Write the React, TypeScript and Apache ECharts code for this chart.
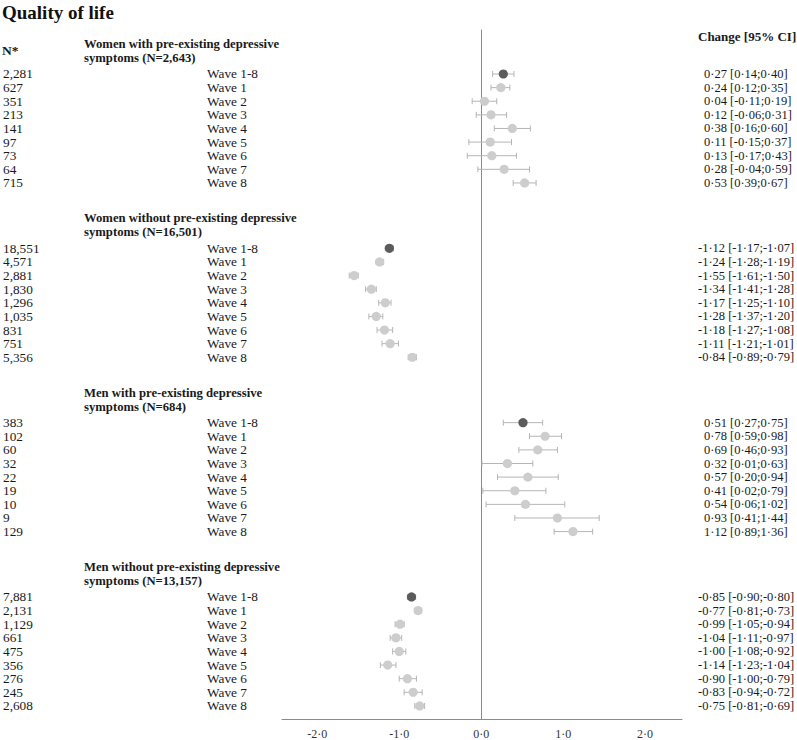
import React, { useEffect, useRef } from "react";
import * as echarts from "echarts";

const groupTitles = [
  "Women with pre-existing depressive\nsymptoms (N=2,643)",
  "Women without pre-existing depressive\nsymptoms (N=16,501)",
  "Men with pre-existing depressive\nsymptoms (N=684)",
  "Men without pre-existing depressive\nsymptoms (N=13,157)",
];

const waveLabels = ["Wave 1-8", "Wave 1", "Wave 2", "Wave 3", "Wave 4", "Wave 5", "Wave 6", "Wave 7", "Wave 8"];

const nWomenWith = ["2,281", "627", "351", "213", "141", "97", "73", "64", "715"];
const estWomenWith = [0.27, 0.24, 0.04, 0.12, 0.38, 0.11, 0.13, 0.28, 0.53];
const loWomenWith = [0.14, 0.12, -0.11, -0.06, 0.16, -0.15, -0.17, -0.04, 0.39];
const hiWomenWith = [0.40, 0.35, 0.19, 0.31, 0.60, 0.37, 0.43, 0.59, 0.67];

const nWomenWithout = ["18,551", "4,571", "2,881", "1,830", "1,296", "1,035", "831", "751", "5,356"];
const estWomenWithout = [-1.12, -1.24, -1.55, -1.34, -1.17, -1.28, -1.18, -1.11, -0.84];
const loWomenWithout = [-1.17, -1.28, -1.61, -1.41, -1.25, -1.37, -1.27, -1.21, -0.89];
const hiWomenWithout = [-1.07, -1.19, -1.50, -1.28, -1.10, -1.20, -1.08, -1.01, -0.79];

const nMenWith = ["383", "102", "60", "32", "22", "19", "10", "9", "129"];
const estMenWith = [0.51, 0.78, 0.69, 0.32, 0.57, 0.41, 0.54, 0.93, 1.12];
const loMenWith = [0.27, 0.59, 0.46, 0.01, 0.20, 0.02, 0.06, 0.41, 0.89];
const hiMenWith = [0.75, 0.98, 0.93, 0.63, 0.94, 0.79, 1.02, 1.44, 1.36];

const nMenWithout = ["7,881", "2,131", "1,129", "661", "475", "356", "276", "245", "2,608"];
const estMenWithout = [-0.85, -0.77, -0.99, -1.04, -1.00, -1.14, -0.90, -0.83, -0.75];
const loMenWithout = [-0.90, -0.81, -1.05, -1.11, -1.08, -1.23, -1.00, -0.94, -0.81];
const hiMenWithout = [-0.80, -0.73, -0.94, -0.97, -0.92, -1.04, -0.79, -0.72, -0.69];

const xTickValues = [-2, -1, 0, 1, 2];

const groups = [
  { n: nWomenWith, est: estWomenWith, lo: loWomenWith, hi: hiWomenWith },
  { n: nWomenWithout, est: estWomenWithout, lo: loWomenWithout, hi: hiWomenWithout },
  { n: nMenWith, est: estMenWith, lo: loMenWith, hi: hiMenWith },
  { n: nMenWithout, est: estMenWithout, lo: loMenWithout, hi: hiMenWithout },
];

const GROUP_STEP = 12.8;
const SERIF = "'Liberation Serif', 'Times New Roman', serif";

const fmt = (v: number) => v.toFixed(2).replace(".", "·");

export default function App() {
  const ref = useRef<HTMLDivElement>(null);

  useEffect(() => {
    if (!ref.current) return;
    const chart = echarts.init(ref.current, undefined, { renderer: "svg" });

    // rows: [est, lo, hi, yPos, isOverall, nLabel, waveLabel, ciText]
    const rows: any[] = [];
    groups.forEach((g, gi) => {
      g.est.forEach((e, i) => {
        rows.push([
          e,
          g.lo[i],
          g.hi[i],
          gi * GROUP_STEP + i,
          i === 0 ? 1 : 0,
          g.n[i],
          waveLabels[i],
          `${fmt(e)} [${fmt(g.lo[i])};${fmt(g.hi[i])}]`,
        ]);
      });
    });
    const headers = groupTitles.map((t, gi) => [0, gi * GROUP_STEP - 1.69]);

    const textEl = (text: string, x: number, y: number, size: number) => ({
      type: "text",
      x,
      y,
      style: {
        text,
        fill: "#1a1a1a",
        fontFamily: SERIF,
        fontSize: size,
        fontWeight: "normal",
        verticalAlign: "middle",
        align: "left",
      },
    });

    chart.setOption({
      animation: false,
      backgroundColor: "#fff",
      grid: { left: 282, right: 115, top: 30, bottom: 21, containLabel: false },
      xAxis: {
        type: "value",
        min: -2.43,
        max: 2.45,
        splitLine: { show: false },
        axisTick: { show: false },
        axisLine: { show: true, onZero: false, lineStyle: { color: "#8a8a8a", width: 1 } },
        axisLabel: {
          customValues: xTickValues,
          margin: 9,
          color: "#333",
          fontFamily: SERIF,
          fontSize: 12,
          formatter: (v: number) => v.toFixed(1).replace(".", "·"),
        },
      },
      yAxis: {
        type: "value",
        inverse: true,
        min: -3.23,
        max: 47.36,
        splitLine: { show: false },
        axisTick: { show: false },
        axisLabel: { show: false },
        axisLine: { show: true, onZero: true, lineStyle: { color: "#8a8a8a", width: 1 } },
      },
      graphic: [
        {
          type: "text",
          left: 2,
          top: 3,
          style: { text: "Quality of life", fontFamily: SERIF, fontSize: 19, fontWeight: "bold", fill: "#111" },
        },
        {
          type: "text",
          left: 2,
          top: 43,
          style: { text: "N*", fontFamily: SERIF, fontSize: 13.5, fontWeight: "bold", fill: "#1a1a1a" },
        },
        {
          type: "text",
          left: 698,
          top: 30,
          style: { text: "Change [95% CI]", fontFamily: SERIF, fontSize: 13, fontWeight: "bold", fill: "#1a1a1a" },
        },
      ],
      series: [
        {
          type: "custom",
          coordinateSystem: "cartesian2d",
          encode: { x: [0, 1, 2], y: 3 },
          data: rows,
          clip: false,
          renderItem: (params: any, api: any) => {
            const est = api.value(0);
            const lo = api.value(1);
            const hi = api.value(2);
            const yv = api.value(3);
            const overall = api.value(4) === 1;
            const row = rows[params.dataIndex];
            const y = api.coord([0, yv])[1];
            const xe = api.coord([est, yv])[0];
            const xl = api.coord([lo, yv])[0];
            const xh = api.coord([hi, yv])[0];
            const barStyle = { stroke: "#b5b5b5", lineWidth: 1 };
            const cap = 3;
            return {
              type: "group",
              children: [
                { type: "line", shape: { x1: xl, y1: y, x2: xh, y2: y }, style: barStyle },
                { type: "line", shape: { x1: xl, y1: y - cap, x2: xl, y2: y + cap }, style: barStyle },
                { type: "line", shape: { x1: xh, y1: y - cap, x2: xh, y2: y + cap }, style: barStyle },
                {
                  type: "circle",
                  shape: { cx: xe, cy: y, r: 4.6 },
                  style: { fill: overall ? "#5b5b5b" : "#cdcdcd" },
                },
                textEl(row[5], 3, y, 13.3),
                textEl(row[6], 207, y, 13.3),
                textEl(row[7], est < 0 ? 698 : 704, y, 12.5),
              ],
            };
          },
        },
        {
          type: "custom",
          coordinateSystem: "cartesian2d",
          encode: { x: 0, y: 1 },
          data: headers,
          clip: false,
          renderItem: (params: any, api: any) => {
            const y = api.coord([0, api.value(1)])[1];
            return {
              type: "text",
              x: 84,
              y,
              style: {
                text: groupTitles[params.dataIndex],
                fill: "#1a1a1a",
                fontFamily: SERIF,
                fontSize: 12.7,
                fontWeight: "bold",
                lineHeight: 14,
                verticalAlign: "middle",
                align: "left",
              },
            };
          },
        },
      ],
    });

    return () => chart.dispose();
  }, []);

  return (
    <div
      ref={ref}
      style={{ position: "fixed", left: 0, top: 0, width: 797, height: 740, background: "#fff" }}
    />
  );
}
